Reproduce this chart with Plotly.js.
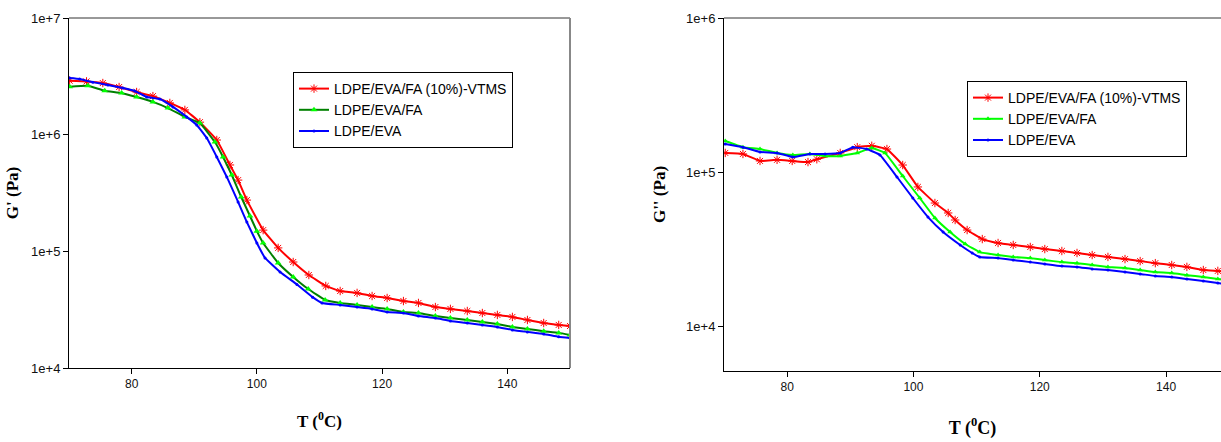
<!DOCTYPE html>
<html><head><meta charset="utf-8">
<script src="https://cdn.plot.ly/plotly-3.0.1.min.js"></script>
<style>html,body{margin:0;padding:0;background:#fff}#chart{width:1221px;height:442px}</style>
</head><body><div id="chart"></div>
<script>
const seriesNames = ["LDPE/EVA/FA (10%)-VTMS", "LDPE/EVA/FA", "LDPE/EVA"];
const xTickVals = [80, 100, 120, 140];
const xTickText = ["80", "100", "120", "140"];
const yTickValsL = [1e4, 1e5, 1e6, 1e7];
const yTickTextL = ["1e+4", "1e+5", "1e+6", "1e+7"];
const yTickValsR = [1e4, 1e5, 1e6];
const yTickTextR = ["1e+4", "1e+5", "1e+6"];

// Left panel: storage modulus G' (Pa)
const tRedL = [70.1, 72.8, 75.4, 78.0, 80.8, 83.4, 86.1, 88.5, 90.9, 93.6, 95.7, 97.0, 98.4, 101.0, 103.4, 105.8, 108.3, 111.0, 113.3, 116.0, 118.4, 120.8, 123.4, 125.8, 128.5, 130.9, 133.6, 136.0, 138.4, 140.8, 143.2, 145.8, 148.2, 150];
const gRedL = [2.90e6, 2.86e6, 2.77e6, 2.56e6, 2.32e6, 2.14e6, 1.87e6, 1.63e6, 1.28e6, 9.0e5, 5.5e5, 4.08e5, 2.75e5, 1.52e5, 1.07e5, 8.1e4, 6.27e4, 5.05e4, 4.57e4, 4.40e4, 4.14e4, 3.98e4, 3.75e4, 3.61e4, 3.33e4, 3.21e4, 3.08e4, 2.96e4, 2.85e4, 2.74e4, 2.58e4, 2.43e4, 2.34e4, 2.29e4];
const tGreenL = [70.1, 73.0, 75.7, 78.4, 80.8, 83.4, 85.8, 88.5, 90.9, 93.3, 94.6, 96.0, 97.5, 98.9, 100.0, 101.0, 103.4, 105.8, 108.2, 110.9, 113.3, 116.0, 118.4, 120.8, 123.4, 125.8, 128.5, 130.9, 133.6, 136.0, 138.4, 140.8, 143.2, 145.8, 148.2, 150];
const gGreenL = [2.58e6, 2.63e6, 2.38e6, 2.28e6, 2.10e6, 1.91e6, 1.69e6, 1.42e6, 1.26e6, 8.65e5, 6.44e5, 4.51e5, 2.92e5, 2.01e5, 1.49e5, 1.18e5, 7.94e4, 6.03e4, 4.75e4, 3.83e4, 3.61e4, 3.47e4, 3.33e4, 3.21e4, 3.02e4, 2.96e4, 2.79e4, 2.68e4, 2.58e4, 2.48e4, 2.38e4, 2.25e4, 2.16e4, 2.07e4, 2.00e4, 1.92e4];
const tBlueL = [70.1, 71.7, 73.8, 76.2, 78.6, 80.5, 82.4, 84.5, 86.6, 88.8, 90.4, 92.0, 93.6, 95.2, 97.0, 98.4, 100.0, 101.3, 103.7, 106.4, 108.9, 110.4, 113.3, 116.0, 118.4, 120.8, 123.4, 125.8, 128.5, 130.9, 133.6, 136.0, 138.4, 140.8, 143.2, 145.8, 148.2, 150];
const gBlueL = [3.06e6, 3.00e6, 2.82e6, 2.67e6, 2.51e6, 2.37e6, 2.10e6, 2.02e6, 1.73e6, 1.42e6, 1.21e6, 9.36e5, 6.44e5, 4.34e5, 2.65e5, 1.78e5, 1.18e5, 8.77e4, 6.65e4, 5.20e4, 4.05e4, 3.61e4, 3.47e4, 3.33e4, 3.21e4, 3.02e4, 2.96e4, 2.79e4, 2.68e4, 2.53e4, 2.43e4, 2.34e4, 2.25e4, 2.12e4, 2.04e4, 1.96e4, 1.85e4, 1.81e4];

// Right panel: loss modulus G'' (Pa)
const tRedR = [70.2, 73.0, 75.7, 78.4, 80.8, 83.3, 84.7, 88.4, 91.1, 93.4, 95.8, 98.3, 100.7, 103.4, 105.5, 106.6, 108.5, 110.9, 113.4, 115.8, 118.5, 120.8, 123.5, 125.9, 128.3, 130.8, 133.5, 135.9, 138.3, 140.9, 143.3, 145.9, 148.2, 150];
const gRedR = [1.33e5, 1.31e5, 1.18e5, 1.20e5, 1.18e5, 1.16e5, 1.21e5, 1.33e5, 1.45e5, 1.48e5, 1.41e5, 1.11e5, 8.0e4, 6.29e4, 5.42e4, 4.88e4, 4.20e4, 3.67e4, 3.46e4, 3.36e4, 3.26e4, 3.16e4, 3.07e4, 2.98e4, 2.89e4, 2.81e4, 2.72e4, 2.64e4, 2.56e4, 2.49e4, 2.42e4, 2.31e4, 2.28e4, 2.25e4];
const tGreenR = [70.2, 73.0, 75.7, 78.4, 80.9, 83.6, 86.0, 88.4, 91.1, 93.4, 95.5, 98.3, 101.0, 103.4, 105.8, 108.2, 110.5, 113.4, 115.8, 118.5, 120.8, 123.5, 125.9, 128.3, 130.8, 133.5, 135.9, 138.3, 140.9, 143.3, 145.9, 148.2, 150];
const gGreenR = [1.59e5, 1.45e5, 1.41e5, 1.33e5, 1.29e5, 1.31e5, 1.27e5, 1.27e5, 1.33e5, 1.43e5, 1.33e5, 9.42e4, 6.78e4, 5.03e4, 4.08e4, 3.41e4, 3.02e4, 2.89e4, 2.81e4, 2.76e4, 2.68e4, 2.60e4, 2.56e4, 2.49e4, 2.42e4, 2.38e4, 2.31e4, 2.24e4, 2.21e4, 2.14e4, 2.08e4, 2.02e4, 1.99e4];
const tBlueR = [70.2, 73.0, 75.7, 78.4, 80.9, 83.6, 86.0, 88.4, 90.4, 92.6, 94.7, 97.4, 99.9, 102.3, 104.7, 107.4, 109.3, 110.5, 113.4, 115.8, 118.5, 120.8, 123.5, 125.9, 128.3, 130.8, 133.5, 135.9, 138.3, 140.9, 143.3, 145.9, 148.2, 150];
const gBlueR = [1.52e5, 1.45e5, 1.35e5, 1.33e5, 1.25e5, 1.31e5, 1.31e5, 1.33e5, 1.45e5, 1.41e5, 1.29e5, 9.28e4, 6.78e4, 5.10e4, 4.08e4, 3.36e4, 2.98e4, 2.81e4, 2.76e4, 2.68e4, 2.60e4, 2.53e4, 2.45e4, 2.42e4, 2.35e4, 2.31e4, 2.24e4, 2.18e4, 2.11e4, 2.08e4, 2.02e4, 1.96e4, 1.90e4, 1.87e4];

const W = 1221, H = 442;
const px = v => v / W, py = v => 1 - v / H;

function tr(x, y, name, lineColor, mk, xa, ya, leg) {
  return {x: x, y: y, name: name, type: 'scatter', mode: 'lines+markers',
    xaxis: xa, yaxis: ya, legend: leg,
    line: {color: lineColor, width: 2, shape: 'spline', smoothing: 0.3},
    marker: mk};
}
const redMk = {symbol: 'asterisk-open', size: 7, color: '#ff0000', line: {color: '#ff0000', width: 1}};
const greenMkL = {symbol: 'triangle-up', size: 6, color: '#00ff00', line: {width: 0}};
const greenMkR = {symbol: 'triangle-up', size: 5, color: '#00ff00', line: {width: 0}};
const blueMk = {symbol: 'circle', size: 3, color: '#0000ff', line: {width: 0}};

const data = [
  tr(tRedL, gRedL, seriesNames[0], '#ff0000', redMk, 'x', 'y', 'legend'),
  tr(tGreenL, gGreenL, seriesNames[1], '#008000', greenMkL, 'x', 'y', 'legend'),
  tr(tBlueL, gBlueL, seriesNames[2], '#0000ff', blueMk, 'x', 'y', 'legend'),
  tr(tRedR, gRedR, seriesNames[0], '#ff0000', redMk, 'x2', 'y2', 'legend2'),
  tr(tGreenR, gGreenR, seriesNames[1], '#00ff00', greenMkR, 'x2', 'y2', 'legend2'),
  tr(tBlueR, gBlueR, seriesNames[2], '#0000ff', blueMk, 'x2', 'y2', 'legend2')
];

const xTickFont = {family: 'Liberation Sans, Arial, sans-serif', size: 12, color: '#111'};
const yTickFont = {family: 'Liberation Sans, Arial, sans-serif', size: 13, color: '#111'};
const legFont = {family: 'Liberation Sans, Arial, sans-serif', size: 14, color: '#000'};
const titleFont = {family: 'Liberation Serif, Times New Roman, serif', size: 17, color: '#000'};
const axBase = {showgrid: false, zeroline: false, showline: true, linecolor: '#000', linewidth: 1,
  ticks: 'outside', ticklen: 5, tickcolor: '#000', tickwidth: 1, automargin: false};

const layout = {
  width: W, height: H, margin: {l: 0, r: 0, t: 0, b: 0},
  paper_bgcolor: '#fff', plot_bgcolor: '#fff', showlegend: true,
  xaxis: Object.assign({}, axBase, {domain: [px(69), px(570)], range: [70, 150], anchor: 'y',
    tickvals: xTickVals, ticktext: xTickText, tickfont: xTickFont,
    title: {text: '<b>T (<sup>0</sup>C)</b>', font: titleFont, standoff: 24}}),
  yaxis: Object.assign({}, axBase, {domain: [py(368), py(18)], type: 'log', range: [4, 7], anchor: 'x',
    tickvals: yTickValsL, ticktext: yTickTextL, tickfont: yTickFont,
    title: {text: "<b>G' (Pa)</b>", font: titleFont, standoff: 8}}),
  xaxis2: Object.assign({}, axBase, {domain: [px(724), 1], range: [70, 70 + 497 / 6.315], anchor: 'y2',
    tickvals: xTickVals, ticktext: xTickText, tickfont: xTickFont,
    title: {text: '<b>T (<sup>0</sup>C)</b>', font: Object.assign({}, titleFont, {size: 18}), standoff: 27}}),
  yaxis2: Object.assign({}, axBase, {domain: [py(371), py(18)], type: 'log', range: [3.708, 6], anchor: 'x2',
    tickvals: yTickValsR, ticktext: yTickTextR, tickfont: yTickFont,
    title: {text: "<b>G'' (Pa)</b>", font: titleFont, standoff: 16}}),
  legend: {x: px(293), y: py(72), xanchor: 'left', yanchor: 'top', bgcolor: '#fff',
    bordercolor: '#000', borderwidth: 1, font: legFont, tracegroupgap: 0, itemwidth: 30},
  legend2: {x: px(967), y: py(81), xanchor: 'left', yanchor: 'top', bgcolor: '#fff',
    bordercolor: '#000', borderwidth: 1, font: legFont, tracegroupgap: 0, itemwidth: 30},
  shapes: [
    {type: 'line', xref: 'x domain', yref: 'y domain', x0: 0, x1: 1, y0: 1, y1: 1, line: {color: '#333', width: 1}},
    {type: 'line', xref: 'x domain', yref: 'y domain', x0: 1, x1: 1, y0: 0, y1: 1, line: {color: '#888', width: 2}},
    {type: 'line', xref: 'x2 domain', yref: 'y2 domain', x0: 0, x1: 1, y0: 1, y1: 1, line: {color: '#333', width: 1}}
  ]
};

Plotly.newPlot('chart', data, layout, {displayModeBar: false, staticPlot: true});
</script></body></html>
